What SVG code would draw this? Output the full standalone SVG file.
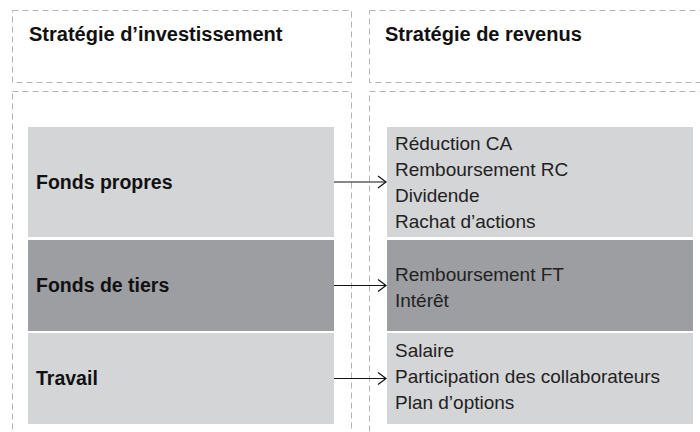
<svg xmlns="http://www.w3.org/2000/svg" width="700" height="432" viewBox="0 0 700 432">
  <defs>
    <style>
      .frame { fill: none; stroke: #b3b3b3; stroke-width: 1; stroke-dasharray: 6 4; }
      .light { fill: #d4d5d7; }
      .dark { fill: #9d9ea1; }
      .head { font-family: "Liberation Sans", Arial, sans-serif; font-weight: bold; font-size: 20px; fill: #111; }
      .src { font-family: "Liberation Sans", Arial, sans-serif; font-weight: bold; font-size: 19.5px; fill: #111; }
      .item { font-family: "Liberation Sans", Arial, sans-serif; font-size: 19px; fill: #222; }
      .link { fill: none; stroke: #111; stroke-width: 1.2; }
    </style>
    <marker id="chevron" markerWidth="12" markerHeight="14" refX="9" refY="7" orient="auto" markerUnits="userSpaceOnUse">
      <path d="M1,1 L9,7 L1,13" fill="none" stroke="#111" stroke-width="1.2"/>
    </marker>
  </defs>
  <rect width="700" height="432" fill="#ffffff"/>

  <!-- column frames -->
  <g id="columns">
    <rect class="frame" x="12.5" y="10.5" width="339" height="72"/>
    <rect class="frame" x="369.5" y="10.5" width="340" height="72"/>
    <rect class="frame" x="12.5" y="91.5" width="339" height="350"/>
    <rect class="frame" x="369.5" y="91.5" width="340" height="350"/>
    <text class="head" x="29" y="41">Stratégie d’investissement</text>
    <text class="head" x="385" y="41">Stratégie de revenus</text>
  </g>

  <!-- investment sources -->
  <g id="fonds-propres">
    <rect class="light" x="28" y="127" width="306" height="110"/>
    <text class="src" x="36" y="189">Fonds propres</text>
  </g>
  <g id="fonds-de-tiers">
    <rect class="dark" x="28" y="240" width="306" height="91"/>
    <text class="src" x="36" y="292">Fonds de tiers</text>
  </g>
  <g id="travail">
    <rect class="light" x="28" y="333" width="306" height="91"/>
    <text class="src" x="36" y="385">Travail</text>
  </g>

  <!-- revenue outcomes -->
  <g id="revenus-fonds-propres">
    <rect class="light" x="387" y="127" width="306" height="110"/>
    <text class="item" x="395" y="150">Réduction CA</text>
    <text class="item" x="395" y="176">Remboursement RC</text>
    <text class="item" x="395" y="202">Dividende</text>
    <text class="item" x="395" y="228">Rachat d’actions</text>
  </g>
  <g id="revenus-fonds-de-tiers">
    <rect class="dark" x="387" y="240" width="306" height="91"/>
    <text class="item" x="395" y="281">Remboursement FT</text>
    <text class="item" x="395" y="307">Intérêt</text>
  </g>
  <g id="revenus-travail">
    <rect class="light" x="387" y="333" width="306" height="91"/>
    <text class="item" x="395" y="357">Salaire</text>
    <text class="item" x="395" y="383">Participation des collaborateurs</text>
    <text class="item" x="395" y="409">Plan d’options</text>
  </g>

  <!-- connectors -->
  <g id="connectors">
    <line class="link" x1="334" y1="182" x2="386" y2="182" marker-end="url(#chevron)"/>
    <line class="link" x1="334" y1="285.5" x2="386" y2="285.5" marker-end="url(#chevron)"/>
    <line class="link" x1="334" y1="378.5" x2="386" y2="378.5" marker-end="url(#chevron)"/>
  </g>
</svg>
